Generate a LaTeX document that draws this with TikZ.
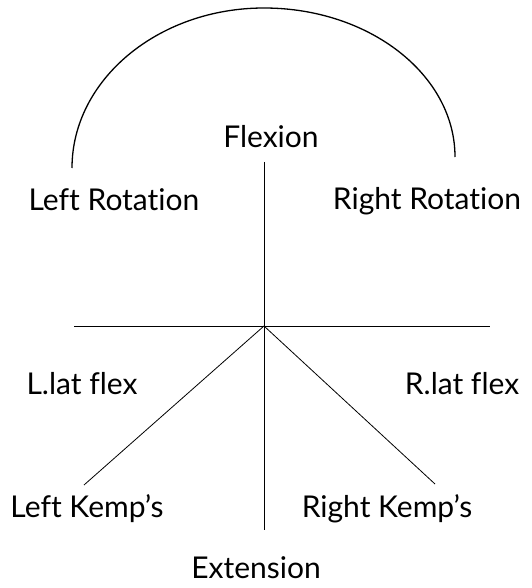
\documentclass[tikz,border=0pt]{standalone}
\usepackage{fontspec}
\setmainfont[Ligatures=NoCommon]{Lato}
\begin{document}
\begin{tikzpicture}[x=1pt,y=-1pt,
  lbl/.style={inner sep=0pt,anchor=base,font=\fontsize{30}{36}\selectfont},
  axis/.style={line width=0.8pt},
  arcline/.style={line width=1.3pt}]
\useasboundingbox (0,0) rectangle (531,588);
\coordinate (c) at (264,326);
\coordinate (top) at (264,162);
\coordinate (bot) at (264,530);
\coordinate (lft) at (74,326);
\coordinate (rgt) at (490,326);
\coordinate (lk) at (84,485);
\coordinate (rk) at (435,484);
\coordinate (al) at (72,168);
\coordinate (ar) at (455,157);
\coordinate (atop) at (264,8);
\node[lbl] (flex) at (271,148) {Flexion};
\node[lbl] (lrot) at (114,210) {Left Rotation};
\node[lbl] (rrot) at (427,209) {Right Rotation};
\node[lbl] (llat) at (82,394) {L.lat flex};
\node[lbl] (rlat) at (462,394) {R.lat flex};
\node[lbl] (lkemp) at (87,517) {Left Kemp’s};
\node[lbl] (rkemp) at (387,517) {Right Kemp’s};
\node[lbl] (ext) at (256,578) {Extension};
\draw[axis] (top) -- (bot);
\draw[axis] (lft) -- (rgt);
\draw[axis] (c) -- (lk);
\draw[axis] (c) -- (rk);
\draw[arcline] (al) .. controls (72,80) and (158,8) .. (atop)
  .. controls (369.5,8) and (455,75) .. (ar);
\end{tikzpicture}
\end{document}
